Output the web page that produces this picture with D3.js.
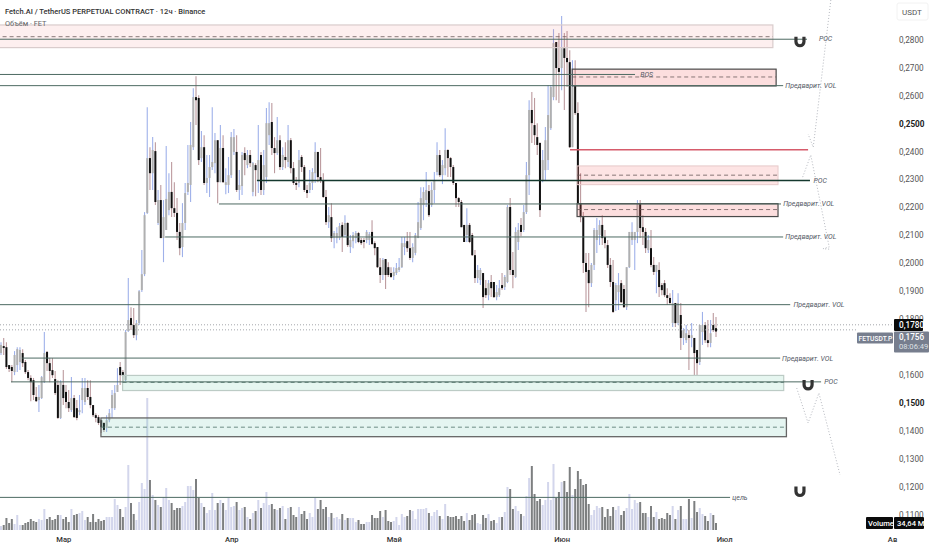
<!DOCTYPE html>
<html><head><meta charset="utf-8">
<script src="https://cdn.jsdelivr.net/npm/d3@7/dist/d3.min.js"></script>
<style>html,body{margin:0;padding:0;background:#fff}svg{display:block}text{font-family:Roboto,"Liberation Sans",sans-serif}</style>
</head><body><svg id="c" width="932" height="550"></svg>
<script>
// Prices are in units of 0.0001 USDT; volume in units of about 5M; one entry per 12h bar.
const opens=[
1679,1704,1700,1636,1629,1611,1636,1647,1679,1647,
1611,1590,1582,1522,1511,1518,1575,1683,1643,1618,
1586,1565,1447,1565,1540,1504,1475,1518,1482,1468,
1511,1504,1554,1522,1493,1457,1450,1439,1429,1411,
1439,1482,1482,1540,1629,1611,1582,1758,1804,1779,
1743,1786,1904,1961,2180,2376,2322,2401,2144,2226,
2090,2119,2190,2255,2197,2180,2112,2058,2144,2255,
2280,2415,2594,2591,2376,2415,2287,2305,2344,2358,
2440,2290,2412,2280,2280,2315,2398,2398,2262,2276,
2394,2351,2387,2255,2351,2297,2387,2262,2308,2458,
2505,2412,2394,2440,2344,2380,2362,2440,2340,2287,
2287,2380,2344,2262,2262,2287,2322,2398,2308,2297,
2237,2147,2165,2090,2090,2090,2137,2101,2144,2058,
2079,2090,2108,2083,2083,2083,2083,2112,2072,2058,
1986,1958,2015,1986,1965,1954,1965,1976,1986,2058,
2079,2054,2019,2037,2090,2126,2208,2226,2258,2208,
2262,2326,2387,2315,2340,2405,2376,2344,2287,2233,
2219,2137,2101,2137,2101,2029,1947,1940,1965,1911,
1886,1933,1933,1879,1886,1922,1915,1933,2201,1976,
1951,2076,2137,2119,2183,2315,2548,2494,2451,2430,
2297,2333,2369,2483,2594,2791,2698,2698,2769,2734,
2719,2415,2634,2537,2215,2165,2001,1976,1929,1994,
2083,2101,2137,2094,2065,1994,1933,1868,1897,1929,
1908,1843,1986,2083,2083,2112,2215,2129,2112,2047,
2054,1994,1969,1976,1922,1929,1886,1876,1786,1858,
1786,1815,1733,1725,1743,1733,1733,1690,1647,1754,
1779,1725,1715,1779,1768];
const highs=[
1718,1733,1718,1636,1636,1686,1700,1700,1693,1654,
1618,1600,1590,1558,1565,1597,1754,1686,1661,1661,
1615,1582,1582,1618,1565,1547,1593,1529,1511,1529,
1590,1590,1582,1582,1493,1464,1457,1439,1432,1457,
1479,1547,1565,1625,1647,1618,1761,1947,1843,1840,
1797,1904,2047,2183,2558,2415,2451,2433,2262,2280,
2226,2419,2322,2362,2290,2233,2144,2215,2287,2423,
2505,2626,2669,2601,2473,2458,2387,2387,2558,2466,
2440,2494,2458,2340,2380,2469,2480,2458,2333,2398,
2415,2405,2405,2362,2358,2494,2398,2405,2555,2576,
2573,2451,2523,2458,2415,2433,2494,2448,2362,2308,
2405,2387,2351,2280,2333,2340,2433,2398,2412,2322,
2262,2201,2215,2115,2129,2144,2147,2172,2147,2101,
2112,2115,2112,2090,2090,2119,2112,2154,2079,2058,
2019,2019,2015,2004,1986,1986,2001,2019,2094,2094,
2112,2112,2072,2108,2219,2272,2272,2326,2280,2290,
2326,2433,2405,2369,2483,2408,2380,2351,2287,2237,
2226,2137,2197,2144,2108,2047,1994,1983,1965,1940,
1940,1958,1933,1922,1940,1965,1958,2208,2233,2040,
2129,2144,2162,2208,2362,2583,2612,2591,2501,2433,
2405,2487,2637,2637,2837,2791,2823,2884,2823,2830,
2762,2726,2726,2576,2322,2183,2037,2037,2001,2126,
2162,2154,2172,2119,2083,2019,2012,1929,1965,1940,
1922,1986,2112,2147,2112,2226,2226,2172,2126,2101,
2119,2022,1994,2004,1929,1940,1911,1893,1904,1858,
1893,1858,1768,1779,1761,1786,1733,1690,1779,1826,
1790,1797,1797,1822,1808];
const lows=[
1672,1672,1622,1611,1575,1600,1611,1618,1629,1604,
1582,1507,1511,1504,1468,1515,1572,1615,1575,1590,
1529,1443,1443,1493,1482,1468,1468,1447,1439,1457,
1464,1493,1511,1482,1450,1432,1422,1393,1397,1397,
1432,1447,1475,1540,1565,1575,1579,1754,1761,1733,
1725,1779,1897,1954,2176,2262,2262,2208,2137,2090,
2004,2119,2172,2165,2165,2083,2029,2022,2119,2244,
2219,2405,2494,2351,2362,2280,2251,2237,2333,2322,
2215,2290,2287,2247,2251,2305,2387,2255,2226,2244,
2315,2340,2344,2240,2240,2251,2244,2244,2287,2423,
2387,2322,2387,2333,2333,2340,2344,2322,2280,2262,
2272,2326,2255,2233,2251,2262,2287,2290,2287,2233,
2137,2126,2076,2054,2072,2083,2040,2094,2058,2037,
2054,2072,2072,2065,2054,2072,2065,2065,2029,1983,
1929,1940,1908,1951,1947,1940,1958,1969,1983,2029,
2040,2012,2004,2029,2090,2119,2154,2201,2165,2201,
2215,2315,2308,2283,2315,2308,2308,2280,2201,2201,
2129,2076,2076,2072,2026,1929,1929,1922,1840,1876,
1868,1879,1876,1868,1879,1904,1904,1929,1958,1911,
1947,2047,2097,2112,2176,2244,2430,2423,2387,2165,
2290,2297,2333,2476,2583,2583,2573,2619,2548,2630,
2412,2415,2530,2212,2147,1965,1826,1843,1915,1976,
2037,2065,2065,2054,1983,1915,1822,1829,1833,1858,
1840,1833,1983,2065,1976,2072,2090,2065,2037,2037,
1986,1958,1893,1879,1886,1879,1851,1851,1772,1772,
1779,1690,1708,1715,1618,1700,1600,1597,1636,1708,
1715,1700,1700,1754,1736];
const closes=[
1708,1697,1629,1622,1615,1672,1693,1690,1643,1611,
1590,1575,1529,1507,1522,1593,1679,1643,1615,1600,
1536,1447,1575,1518,1504,1482,1518,1450,1447,1475,
1554,1554,1522,1493,1457,1447,1429,1414,1404,1439,
1464,1529,1536,1565,1600,1597,1754,1797,1779,1743,
1786,1900,1961,2172,2376,2322,2405,2219,2226,2090,
2165,2230,2255,2197,2180,2112,2054,2144,2251,2287,
2423,2594,2583,2369,2415,2287,2305,2344,2362,2440,
2290,2412,2290,2290,2315,2451,2451,2262,2280,2387,
2369,2387,2358,2358,2333,2369,2262,2351,2501,2501,
2412,2394,2440,2344,2387,2369,2440,2340,2287,2280,
2369,2344,2262,2251,2287,2326,2398,2308,2297,2237,
2147,2172,2090,2108,2108,2133,2094,2144,2065,2083,
2101,2108,2076,2072,2076,2112,2104,2069,2054,1986,
1958,2012,1958,1958,1951,1969,1983,1986,2072,2072,
2054,2019,2058,2101,2147,2233,2255,2262,2172,2262,
2297,2387,2315,2351,2405,2376,2344,2287,2233,2219,
2129,2076,2137,2076,2029,1947,1976,1976,1879,1886,
1929,1911,1879,1897,1911,1911,1951,2201,1976,1958,
2112,2119,2112,2183,2315,2548,2501,2458,2423,2190,
2369,2440,2530,2630,2787,2698,2684,2769,2734,2719,
2415,2630,2537,2215,2165,2001,1969,1929,1994,2119,
2119,2137,2090,2072,1994,1933,1826,1922,1922,1861,
1843,1986,2112,2112,2112,2215,2126,2112,2054,2083,
1994,1969,1994,1915,1904,1886,1876,1858,1858,1786,
1858,1733,1761,1750,1733,1743,1679,1643,1779,1779,
1725,1715,1750,1761,1756];
const volumes=[
4,5,12,7,11,6,15,5,5,7,
8,11,9,8,11,10,21,11,13,10,
11,15,15,11,13,8,21,15,16,17,
19,10,13,8,16,8,11,9,10,13,
13,13,31,25,21,13,23,65,27,16,
10,28,47,41,132,50,35,30,25,23,
33,42,30,27,20,22,22,24,28,44,
44,40,51,32,27,23,17,20,37,20,
27,30,27,20,32,23,24,28,20,22,
23,13,11,17,19,30,22,27,38,25,
26,21,20,22,24,11,22,23,15,13,23,
16,19,11,17,13,32,21,30,21,23,
13,17,12,13,11,16,10,12,12,12,
8,10,6,6,8,8,15,12,12,19,
13,20,9,8,9,13,5,16,13,14,
20,19,11,21,21,21,22,17,14,18,
20,14,11,26,14,13,13,14,11,14,
9,17,10,15,16,7,6,15,12,16,
9,10,7,13,13,18,43,41,21,24,
19,16,14,34,52,64,36,29,31,25,
30,48,30,66,32,38,48,49,38,63,
35,41,59,51,45,46,26,15,20,24,
22,23,13,21,14,23,20,24,15,19,
22,36,21,30,27,28,17,17,13,24,
13,18,11,12,11,17,15,24,11,20,
24,11,11,31,12,29,18,22,16,14,
9,17,15,7];
const priceTicks=[2800,2700,2600,2500,2400,2300,2200,2100,2000,1900,1800,1600,1500,1400,1300,1200,1100];
const boldTicks=[2500,1500];
const monthIdx=[23,85,145,207,267,329];
const monthNames=["Мар","Апр","Май","Июн","Июл","Ав"];
const lastPrice=1756, markPrice=1780;
// price levels: [fromBar, toBar, price, kind]
const levels=[
[-2,297.6,2801,"g"],[-2,234.1,2675,"g"],[-2,288.8,2635,"g"],
[210.1,298,2406,"r"],[94.5,298.7,2296,"k"],[80.5,288.0,2212,"g"],[60.6,288.8,2094,"g"],
[-2,291.4,1852,"g"],[7.8,287.7,1661,"g"],[3.7,302.8,1576,"g"],[-2,269.2,1163,"g"]];
// zones: [fromBar, toBar, topPrice, bottomPrice, midPrice, kind]
const zones=[
[-2,285,2852,2771,2810,"pl"],[210.9,286.2,2694,2634,2666,"pd"],
[212.7,286.9,2348,2281,2315,"pl2"],[212.7,286.9,2213,2167,2192,"pd"],
[44.9,289,1599,1545,1574,"gl"],[36.9,290,1447,1380,1414,"gd"]];
// labels: [bar, price, text]
const labels=[
[302,2805,"POC"],[289.6,2635,"Предварит. VOL"],[236,2675,"BOS"],[300,2296,"POC"],
[288.8,2214,"Предварит. VOL"],[289.6,2094,"Предварит. VOL"],[292.6,1852,"Предварит. VOL"],
[288.4,1661,"Предварит. VOL"],[304,1576,"POC"],[270,1163,"цель"]];
const magnets=[[295,2792],[298,1565],[295,1184]];
// dotted projection paths: lists of [bar, price]
const paths=[
[[306.4,2941],[299.9,2415],[298,2462]],
[[296,2308],[299,2387],[305.8,2058],[303.5,2052],[306.5,2050]],
[[293.8,1554],[298,1429],[302,1536],[309.8,1243]]];

const x=d3.scaleLinear().domain([0,264]).range([1,716]);
const y=d3.scaleLinear().domain([2800,1100]).range([39.5,515]);
const vy=d3.scaleLinear().domain([0,132]).range([530,398]);
const svg=d3.select("#c");
const idx=d3.range(opens.length);
const isUp=i=>closes[i]>=opens[i];
const fmt=v=>"0,"+(v/10000).toFixed(4).slice(2);

// volume
svg.append("g").selectAll("rect").data(idx).join("rect")
 .attr("x",i=>x(i)-1).attr("width",2).attr("y",i=>vy(volumes[i])).attr("height",i=>vy(0)-vy(volumes[i]))
 .attr("fill",i=>isUp(i)?"#d3d6ec":"#7d7f80");
// candles
const g=svg.append("g");
g.selectAll("line").data(idx).join("line")
 .attr("x1",i=>x(i)).attr("x2",i=>x(i)).attr("y1",i=>y(highs[i])).attr("y2",i=>y(lows[i]))
 .attr("stroke",i=>isUp(i)?"#9fb1ea":"#bc9a9e").attr("stroke-width",1.1);
g.selectAll("rect").data(idx).join("rect")
 .attr("x",i=>x(i)-1).attr("width",2)
 .attr("y",i=>y(Math.max(opens[i],closes[i])))
 .attr("height",i=>Math.max(1,Math.abs(y(opens[i])-y(closes[i]))))
 .attr("fill",i=>isUp(i)?"#b0b0b0":"#111");
// zones
const zoneStyle={pl:["rgba(242,120,120,.12)","#d9cccc",1.2],pd:["rgba(240,90,90,.2)","#4a4a4a",1.2],pl2:["rgba(240,90,90,.16)","#e6caca",1],
 gl:["rgba(80,190,150,.14)","#bccbc5",1.2],gd:["rgba(80,190,160,.15)","#666",1.3]};
const zg=svg.append("g");
zones.forEach(z=>{const s=zoneStyle[z[5]];
 zg.append("rect").attr("x",x(z[0])).attr("width",x(z[1])-x(z[0])).attr("y",y(z[2])).attr("height",y(z[3])-y(z[2]))
  .attr("fill",s[0]).attr("stroke",s[1]).attr("stroke-width",s[2]);
 zg.append("line").attr("x1",x(z[0])).attr("x2",x(z[1])).attr("y1",y(z[4])).attr("y2",y(z[4]))
  .attr("stroke",z[5][0]=="g"?"#4f7268":"#6a5a5a").attr("stroke-width",.8).attr("stroke-dasharray","4 3");
});
// level lines
const lineStyle={g:["#4d6a62",1],r:["#d65b6b",1.6],k:["#14392e",1.4]};
svg.append("g").selectAll("line").data(levels).join("line")
 .attr("x1",d=>x(d[0])).attr("x2",d=>x(d[1])).attr("y1",d=>y(d[2])).attr("y2",d=>y(d[2]))
 .attr("stroke",d=>lineStyle[d[3]][0]).attr("stroke-width",d=>lineStyle[d[3]][1]);
// dotted projections
const ln=d3.line().x(d=>x(d[0])).y(d=>y(d[1]));
svg.append("g").selectAll("path").data(paths).join("path").attr("d",ln)
 .attr("fill","none").attr("stroke","#b5b8bf").attr("stroke-width",1).attr("stroke-dasharray","1 2");
// price dotted lines
[markPrice,lastPrice+6].forEach(p=>svg.append("line").attr("x1",0).attr("x2",p==markPrice?894:857)
 .attr("y1",y(p)).attr("y2",y(p)).attr("stroke","#9a9ca3").attr("stroke-width",.9).attr("stroke-dasharray","1 2"));
// labels
svg.append("g").selectAll("text").data(labels).join("text")
 .attr("x",d=>x(d[0])).attr("y",d=>y(d[1])).attr("dy","0.35em").text(d=>d[2])
 .attr("font-size",7).attr("font-style","italic").attr("fill","#555b66");
// magnets
const mg=svg.append("g").selectAll("g").data(magnets).join("g").attr("transform",d=>`translate(${x(d[0])},${y(d[1])})`);
mg.append("path").attr("d","M-4,-5 V0 A4,4 0 0 0 4,0 V-5").attr("fill","none").attr("stroke","#333").attr("stroke-width",3.2);
// right axis
const ax=svg.append("g").attr("transform","translate(895,0)")
 .call(d3.axisRight(y).tickValues(priceTicks).tickSize(0).tickPadding(4).tickFormat(fmt));
ax.select(".domain").remove();
ax.selectAll("text").attr("font-size",8.2).attr("fill",d=>boldTicks.includes(d)?"#222":"#555")
 .attr("font-weight",d=>boldTicks.includes(d)?700:400);
// bottom axis
const ba=svg.append("g").attr("transform","translate(0,535)")
 .call(d3.axisBottom(x).tickValues(monthIdx).tickSize(0).tickPadding(2).tickFormat((d,i)=>monthNames[i]));
ba.select(".domain").remove();
ba.selectAll("text").attr("font-size",7.6).attr("fill","#333").attr("font-weight",500);
// title
svg.append("text").attr("x",5).attr("y",14).attr("font-size",7.5).attr("font-weight",500).attr("fill","#333").text("Fetch.AI / TetherUS PERPETUAL CONTRACT · 12ч · Binance");
svg.append("text").attr("x",5).attr("y",25.5).attr("font-size",7.4).attr("fill","#666").text("Объём · FET");
// USDT box
svg.append("rect").attr("x",897).attr("y",3).attr("width",31).attr("height",17).attr("rx",2).attr("fill","#fff").attr("stroke","#f2f2f2");
svg.append("text").attr("x",902).attr("y",14.5).attr("font-size",8).attr("fill","#555").text("USDT");
// tags
function tag(x0,y0,w,h,fill,lines){
 svg.append("rect").attr("x",x0).attr("y",y0).attr("width",w).attr("height",h).attr("fill",fill).attr("rx",1);
 lines.forEach(l=>svg.append("text").attr("x",x0+l[0]).attr("y",y0+l[1]).attr("font-size",l[5]).attr("font-weight",l[3]).attr("fill",l[2]).text(l[4]));
}
tag(894,319,29,12,"#0b0b0b",[[5,9,"#fff",500,fmt(markPrice),8.2]]);
tag(857,332.5,36,11,"#777e8e",[[1.5,8,"#fff",500,"FETUSDT.P",6.7]]);
tag(894,331.5,35,21,"#777e8e",[[5,8.6,"#fff",500,fmt(lastPrice),8.2],[5,17.6,"#dfe1e6",400,"08:06:49",7.6]]);
tag(866,517,27,12,"#0b0b0b",[[2,9,"#fff",500,"Volume",7.6]]);
tag(894,517,30,12,"#0b0b0b",[[3,9,"#fff",500,"34,64 M",7.6]]);
</script></body></html>
